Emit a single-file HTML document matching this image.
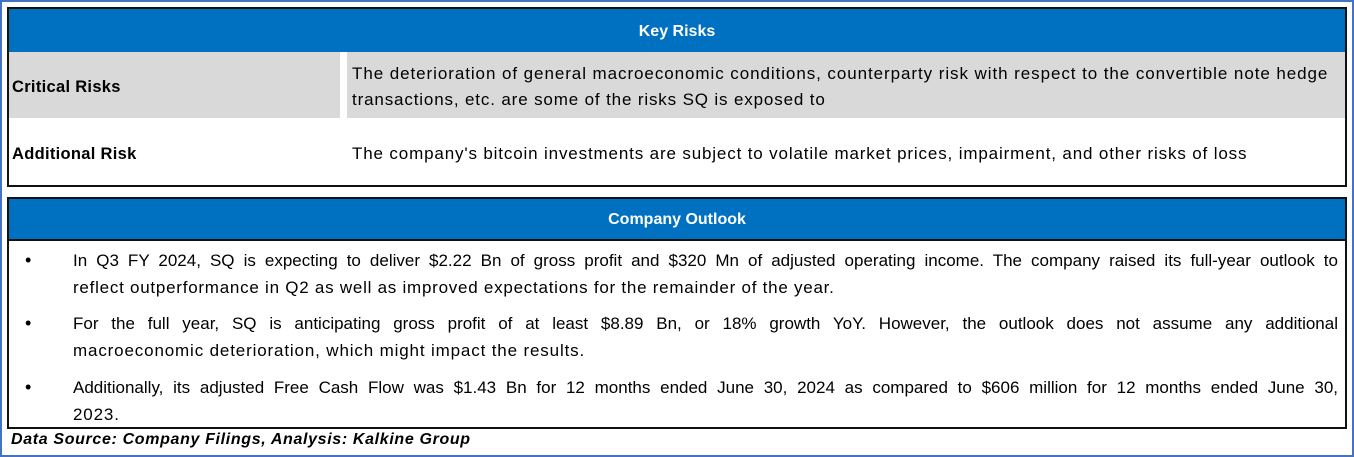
<!DOCTYPE html>
<html><head><meta charset="utf-8"><style>
body{margin:0;width:1354px;height:457px;background:#fff;font-family:"Liberation Sans",sans-serif;color:#000;position:relative;overflow:hidden}
.frame{position:absolute;left:0;top:0;width:1350px;height:453px;border:2px solid #4472c4}
.box{position:absolute;border:2px solid #111;box-sizing:border-box}
.hdr{position:absolute;left:0;right:0;background:#0070c0;color:#fff;font-weight:bold;font-size:16px;text-align:center}
.t{position:absolute;font-size:17px;letter-spacing:0.85px;white-space:nowrap}
.j{position:absolute;font-size:17px;text-align:justify;text-align-last:justify;white-space:nowrap}
.b{font-weight:bold;font-size:16.5px;letter-spacing:0.3px}
.bul{position:absolute;left:16px;font-size:18px}
</style></head><body>
<div class="frame"></div>
<div class="box" style="left:7px;top:7px;width:1340px;height:180px">
 <div class="hdr" style="top:0;height:43px;line-height:46px">Key Risks</div>
 <div style="position:absolute;left:0;top:43px;width:331px;height:66px;background:#d9d9d9"></div>
 <div style="position:absolute;left:338px;top:43px;right:0;height:66px;background:#d9d9d9"></div>
 <div class="t b" style="left:3px;top:69px">Critical Risks</div>
 <div class="t" style="left:343px;top:55px;letter-spacing:0.93px">The deterioration of general macroeconomic conditions, counterparty risk with respect to the convertible note hedge</div>
 <div class="t" style="left:343px;top:81px">transactions, etc. are some of the risks SQ is exposed to</div>
 <div class="t b" style="left:3px;top:136px">Additional Risk</div>
 <div class="t" style="left:343px;top:135px">The company's bitcoin investments are subject to volatile market prices, impairment, and other risks of loss</div>
</div>
<div class="box" style="left:7px;top:197px;width:1340px;height:232px">
 <div class="hdr" style="top:0;height:40px;line-height:42px;border-bottom:2px solid #111">Company Outlook</div>
 <div class="bul" style="top:51px">•</div>
 <div class="j" style="left:64px;width:1265px;top:52px">In Q3 FY 2024, SQ is expecting to deliver $2.22 Bn of gross profit and $320 Mn of adjusted operating income. The company raised its full-year outlook to</div>
 <div class="t" style="left:64px;top:79px;letter-spacing:0.75px">reflect outperformance in Q2 as well as improved expectations for the remainder of the year.</div>
 <div class="bul" style="top:114px">•</div>
 <div class="j" style="left:64px;width:1265px;top:115px">For the full year, SQ is anticipating gross profit of at least $8.89 Bn, or 18% growth YoY. However, the outlook does not assume any additional</div>
 <div class="t" style="left:64px;top:142px">macroeconomic deterioration, which might impact the results.</div>
 <div class="bul" style="top:178px">•</div>
 <div class="j" style="left:64px;width:1265px;top:179px">Additionally, its adjusted Free Cash Flow was $1.43 Bn for 12 months ended June 30, 2024 as compared to $606 million for 12 months ended June 30,</div>
 <div class="t" style="left:64px;top:206px">2023.</div>
</div>
<div class="t b" style="left:11px;top:431px;font-style:italic;font-size:16px;letter-spacing:0.65px">Data Source: Company Filings, Analysis: Kalkine Group</div>
</body></html>
